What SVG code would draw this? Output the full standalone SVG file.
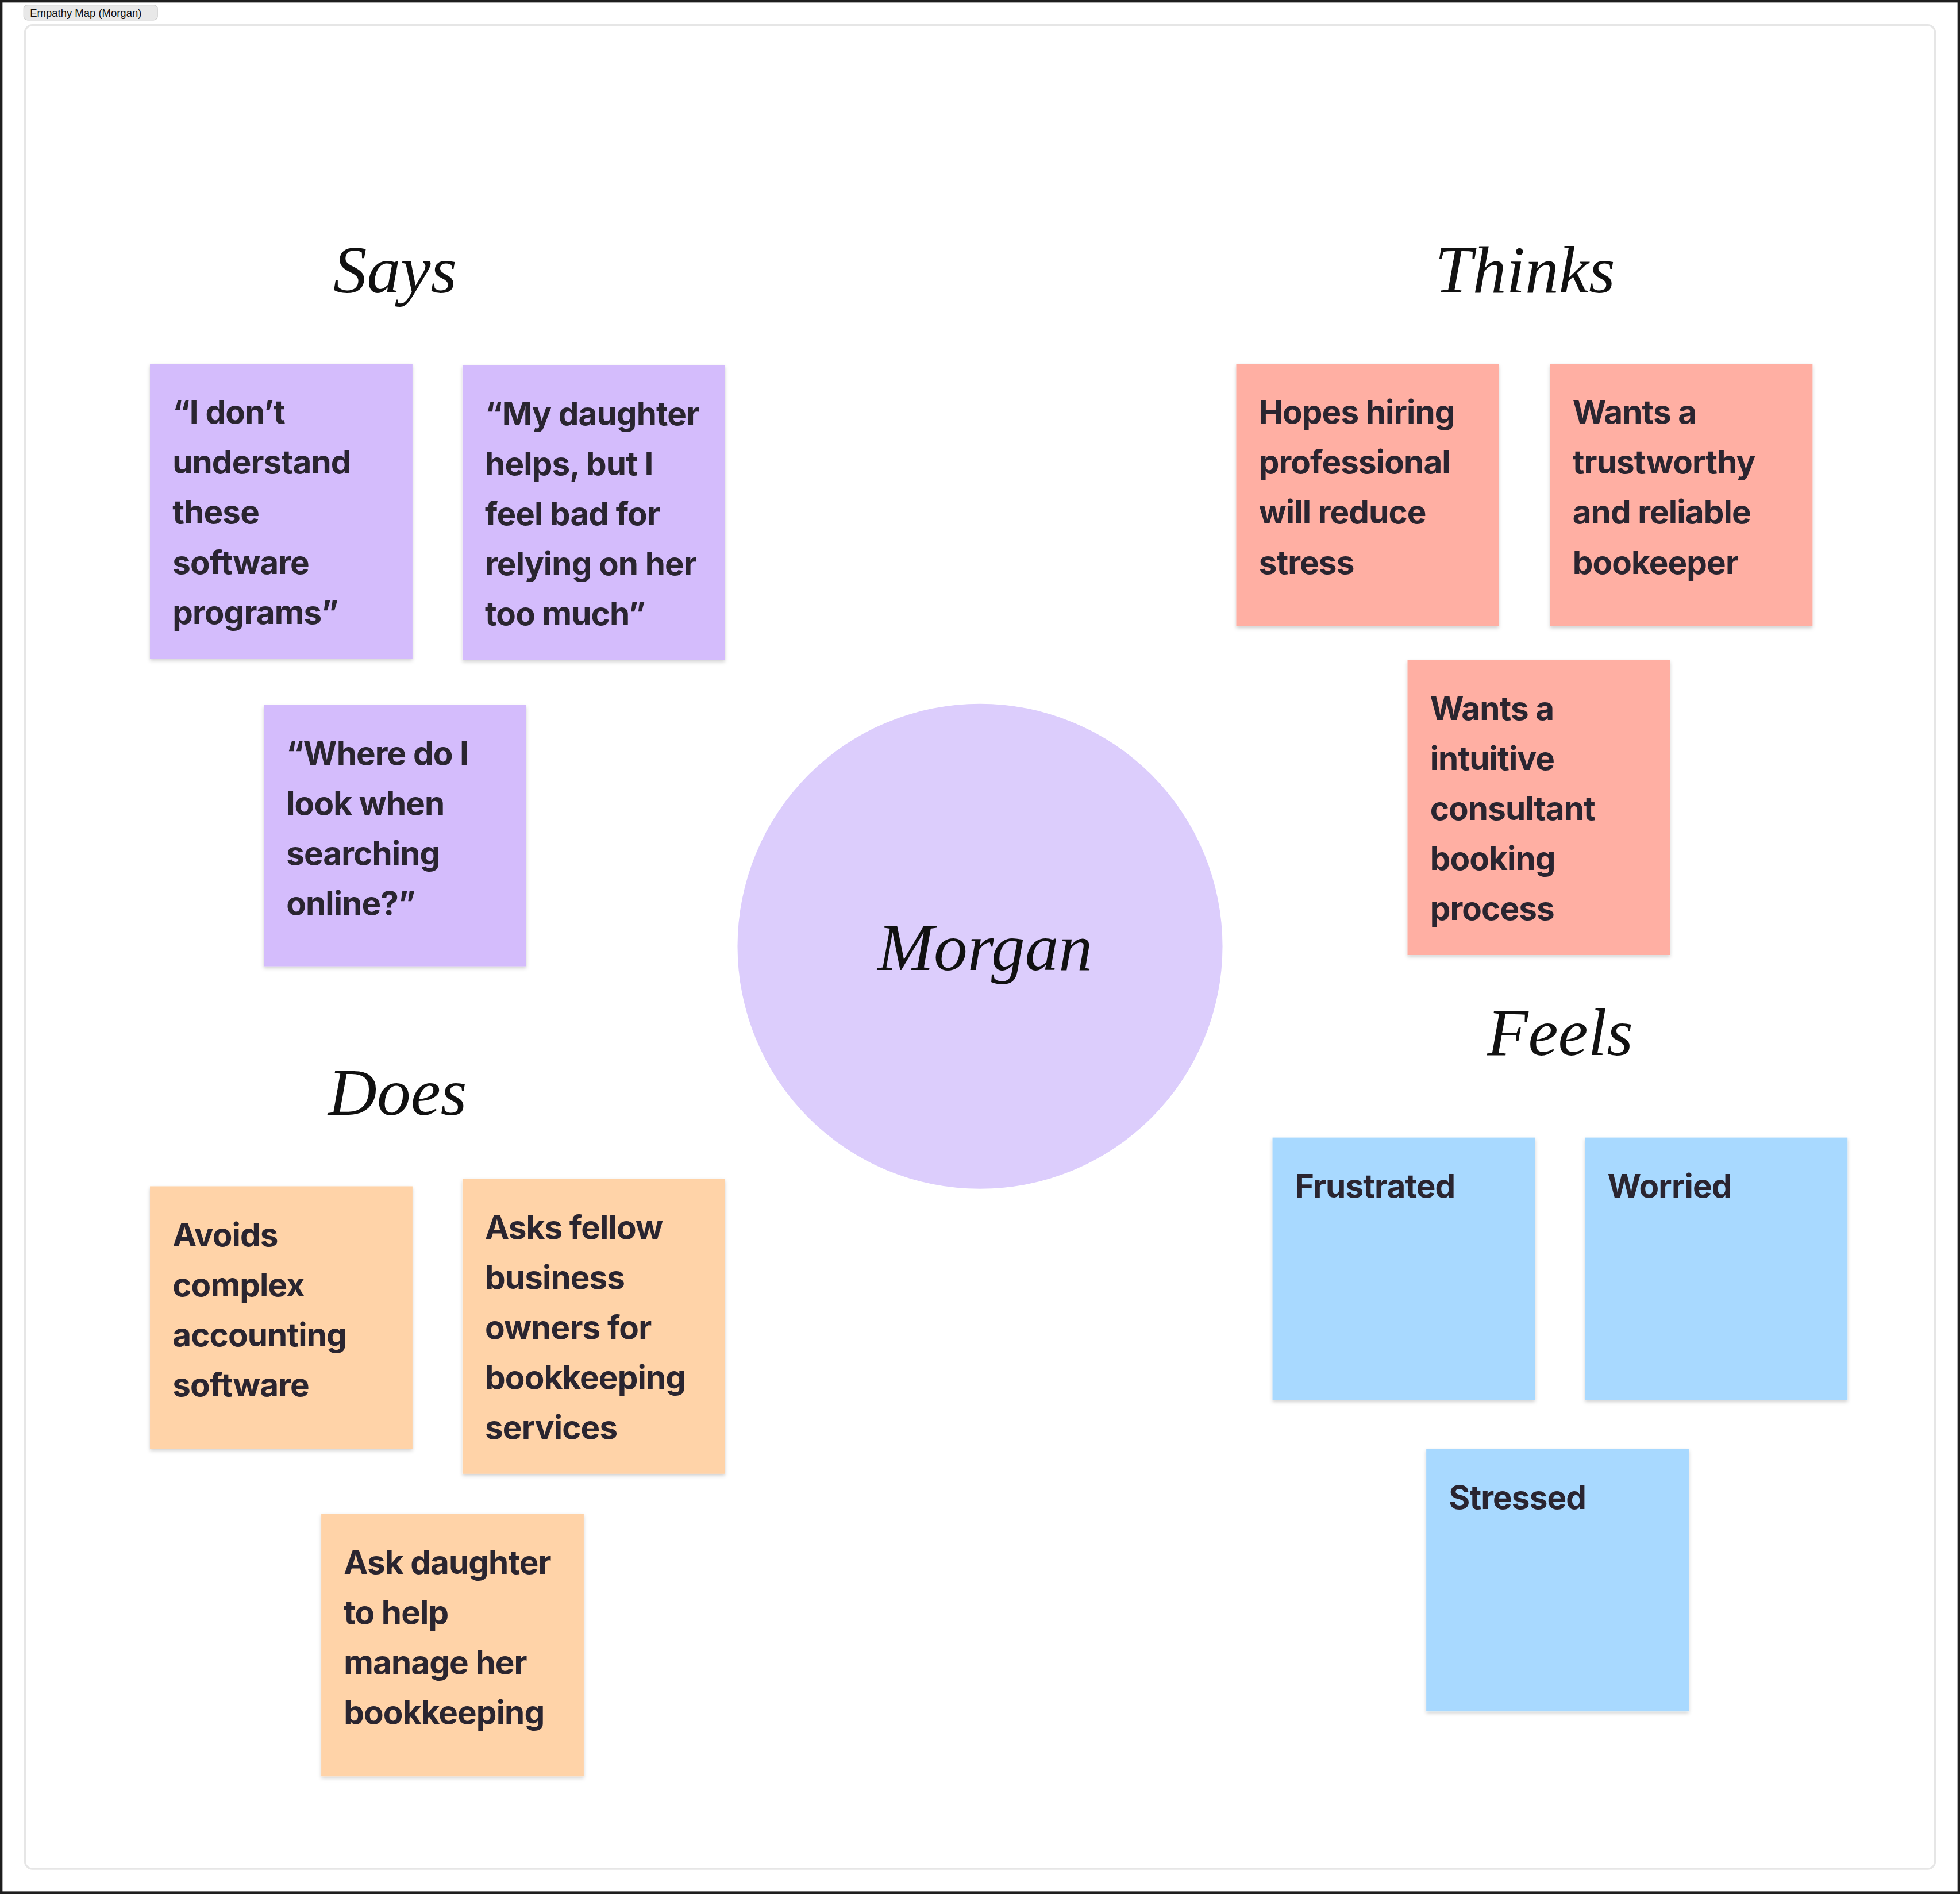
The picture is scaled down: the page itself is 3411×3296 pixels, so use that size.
<svg xmlns="http://www.w3.org/2000/svg" width="3411" height="3296" viewBox="0 0 3411 3296">
<style>
.t{font-family:Inter,"Liberation Sans",sans-serif;font-weight:700;font-size:26px;letter-spacing:-0.4px;fill:#2a2530}
.h{font-family:"Liberation Serif",serif;font-style:italic;font-size:54px;fill:#111;text-anchor:middle}
.p{fill:#d4bcfc}.r{fill:#ffafa3}.o{fill:#ffd3a8}.b{fill:#a8d9ff}
</style>
<defs><filter id="sh" x="-5%" y="-5%" width="110%" height="115%"><feDropShadow dx="0" dy="1.5" stdDeviation="1.5" flood-opacity="0.18"/></filter></defs>
<rect width="3411" height="3296" fill="#1e1e1e"/>
<g transform="scale(2.1754)">
<rect x="2" y="2" width="1564" height="1511" fill="#fff"/>
<rect x="20" y="20" width="1528" height="1475" rx="6" fill="#fff" stroke="#e6e6e6" stroke-width="1.5"/>
<g id="label"><rect x="19" y="4" width="107" height="12" rx="3" fill="#e8e8e8" stroke="#ccc" stroke-width="0.6"/><text x="24" y="13.5" font-family="Liberation Sans,sans-serif" font-size="8.5" fill="#111">Empathy Map (Morgan)</text></g>
<g id="headings">
<text class="h" x="316" y="234">Says</text>
<text class="h" x="1220" y="234">Thinks</text>
<text class="h" x="318" y="892">Does</text>
<text class="h" x="1248" y="844">Feels</text>
</g>
<g id="center"><circle cx="784" cy="757" r="194" fill="#dccdfc"/><text class="h" x="788" y="776" font-size="60">Morgan</text></g>
<g id="s1"><rect class="p" x="120" y="291" width="210" height="236" filter="url(#sh)"/><text class="t" x="138" y="339"><tspan x="138">“I don’t</tspan><tspan x="138" dy="40">understand</tspan><tspan x="138" dy="40">these</tspan><tspan x="138" dy="40">software</tspan><tspan x="138" dy="40">programs”</tspan></text></g>
<g id="s2"><rect class="p" x="370" y="292" width="210" height="236" filter="url(#sh)"/><text class="t" x="388" y="340"><tspan x="388">“My daughter</tspan><tspan x="388" dy="40">helps, but I</tspan><tspan x="388" dy="40">feel bad for</tspan><tspan x="388" dy="40">relying on her</tspan><tspan x="388" dy="40">too much”</tspan></text></g>
<g id="s3"><rect class="p" x="211" y="564" width="210" height="209" filter="url(#sh)"/><text class="t" x="229" y="612"><tspan x="229">“Where do I</tspan><tspan x="229" dy="40">look when</tspan><tspan x="229" dy="40">searching</tspan><tspan x="229" dy="40">online?”</tspan></text></g>
<g id="t1"><rect class="r" x="989" y="291" width="210" height="210" filter="url(#sh)"/><text class="t" x="1007" y="339"><tspan x="1007">Hopes hiring</tspan><tspan x="1007" dy="40">professional</tspan><tspan x="1007" dy="40">will reduce</tspan><tspan x="1007" dy="40">stress</tspan></text></g>
<g id="t2"><rect class="r" x="1240" y="291" width="210" height="210" filter="url(#sh)"/><text class="t" x="1258" y="339"><tspan x="1258">Wants a</tspan><tspan x="1258" dy="40">trustworthy</tspan><tspan x="1258" dy="40">and reliable</tspan><tspan x="1258" dy="40">bookeeper</tspan></text></g>
<g id="t3"><rect class="r" x="1126" y="528" width="210" height="236" filter="url(#sh)"/><text class="t" x="1144" y="576"><tspan x="1144">Wants a</tspan><tspan x="1144" dy="40">intuitive</tspan><tspan x="1144" dy="40">consultant</tspan><tspan x="1144" dy="40">booking</tspan><tspan x="1144" dy="40">process</tspan></text></g>
<g id="d1"><rect class="o" x="120" y="949" width="210" height="210" filter="url(#sh)"/><text class="t" x="138" y="997"><tspan x="138">Avoids</tspan><tspan x="138" dy="40">complex</tspan><tspan x="138" dy="40">accounting</tspan><tspan x="138" dy="40">software</tspan></text></g>
<g id="d2"><rect class="o" x="370" y="943" width="210" height="236" filter="url(#sh)"/><text class="t" x="388" y="991"><tspan x="388">Asks fellow</tspan><tspan x="388" dy="40">business</tspan><tspan x="388" dy="40">owners for</tspan><tspan x="388" dy="40">bookkeeping</tspan><tspan x="388" dy="40">services</tspan></text></g>
<g id="d3"><rect class="o" x="257" y="1211" width="210" height="210" filter="url(#sh)"/><text class="t" x="275" y="1259"><tspan x="275">Ask daughter</tspan><tspan x="275" dy="40">to help</tspan><tspan x="275" dy="40">manage her</tspan><tspan x="275" dy="40">bookkeeping</tspan></text></g>
<g id="f1"><rect class="b" x="1018" y="910" width="210" height="210" filter="url(#sh)"/><text class="t" x="1036" y="958">Frustrated</text></g>
<g id="f2"><rect class="b" x="1268" y="910" width="210" height="210" filter="url(#sh)"/><text class="t" x="1286" y="958">Worried</text></g>
<g id="f3"><rect class="b" x="1141" y="1159" width="210" height="210" filter="url(#sh)"/><text class="t" x="1159" y="1207">Stressed</text></g>
<g id="connectors"/>
</g>
</svg>
